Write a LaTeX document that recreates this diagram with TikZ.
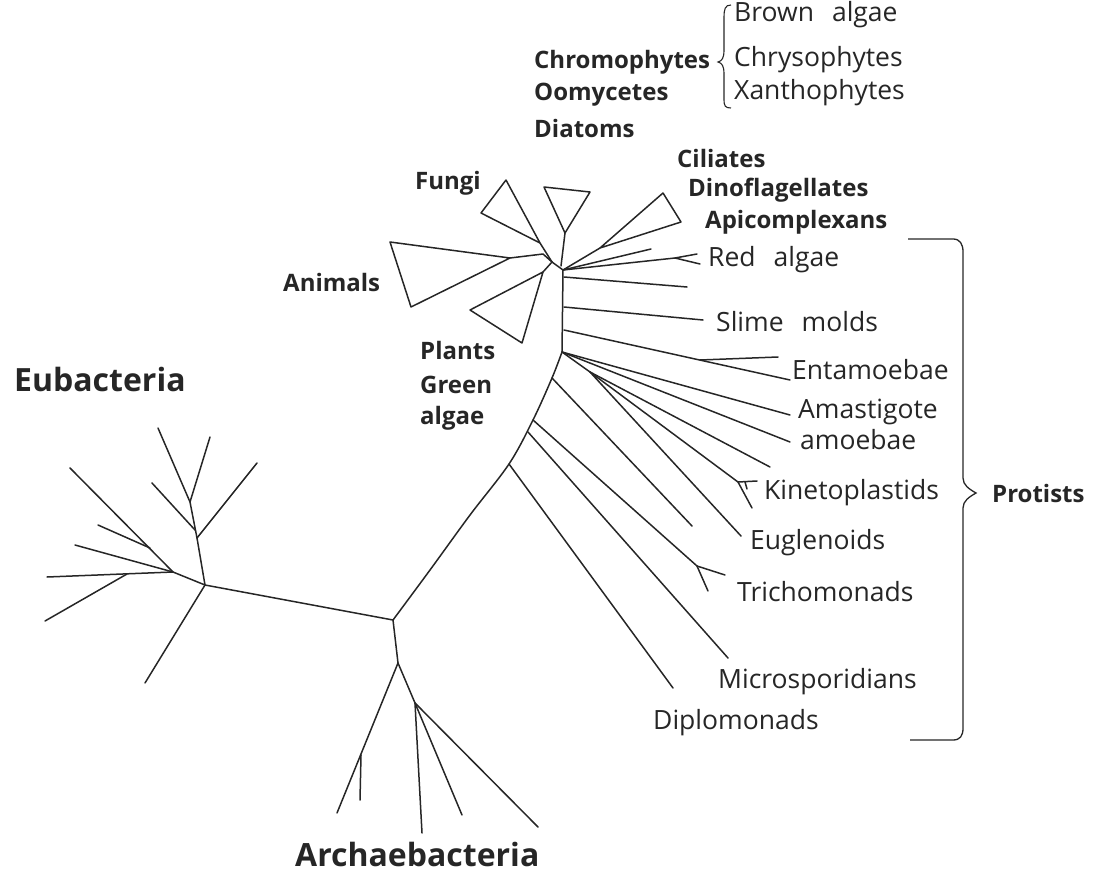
\documentclass[tikz,border=0pt]{standalone}
\usepackage{fontspec}
\setmainfont{Open Sans}
\newcommand{\wsp}{\hspace{0.68em}}
\begin{document}
\begin{tikzpicture}[x=1pt,y=-1pt,
  br/.style={line width=1.5pt, line join=round, line cap=round, black!85},
  lab/.style={anchor=west, inner sep=0pt, text=black!85, font=\fontsize{26.5}{28}\selectfont},
  blab/.style={anchor=west, inner sep=0pt, text=black!85, font=\fontsize{24}{26}\selectfont\bfseries},
  biglab/.style={anchor=base west, inner sep=0pt, text=black!85, font=\fontsize{32}{34}\selectfont\bfseries}]
\useasboundingbox (0,0) rectangle (1107,872);
% ---- key junctions
\coordinate (M) at (393,620);
\coordinate (E) at (205,585);
\coordinate (A) at (398,663);
\coordinate (A2) at (415,703);
\coordinate (C1) at (552,262);
\coordinate (T) at (563,270);
\coordinate (S1) at (562,352);
\coordinate (S2) at (552,378);
\coordinate (S3) at (533,420);
\coordinate (S4) at (528,432);
\coordinate (S5) at (509,464);
\coordinate (J2) at (590,372);
% ---- trunk
\draw[br] (M) -- (E);
\draw[br] (M) -- (A);
\draw[br] plot[smooth, tension=0.55] coordinates {(393,620) (430,570) (470,515) (S5) (S3) (S2) (S1)} -- (T) -- (C1);
% ---- eubacteria
\coordinate (Eb1) at (197,538);
\coordinate (Eb2) at (190,502);
\coordinate (Eb3) at (195,530);
\coordinate (Ec) at (173,572);
\coordinate (Ec1) at (150,548);
\coordinate (Ec2) at (127,574);
\draw[br] (E) -- (Eb1) -- (Eb2) -- (158,428);
\draw[br] (Eb2) -- (210,437);
\draw[br] (Eb1) -- (257,463);
\draw[br] (Eb3) -- (152,483);
\draw[br] (E) -- (Ec) -- (70,468);
\draw[br] (Ec1) -- (98,525);
\draw[br] (Ec) -- (75,545);
\draw[br] (Ec) -- (47,577);
\draw[br] (Ec2) -- (45,621);
\draw[br] (E) -- (145,683);
% ---- archaebacteria
\coordinate (Aa) at (361,755);
\draw[br] (A) -- (337,813);
\draw[br] (Aa) -- (360,800);
\draw[br] (A) -- (A2);
\draw[br] (A2) -- (422,833);
\draw[br] (A2) -- (462,815);
\draw[br] (A2) -- (538,827);
% ---- crown groups (triangles)
\coordinate (Fa) at (540,243);
\draw[br] (Fa) -- (506,180) -- (481,213) -- cycle;
\draw[br] (Fa) -- (C1);
\coordinate (Ka) at (565,233);
\draw[br] (Ka) -- (544,187) -- (590,192) -- cycle;
\draw[br] (Ka) -- (561,266);
\coordinate (Aa1) at (510,258);
\draw[br] (Aa1) -- (390,242) -- (411,307) -- cycle;
\draw[br] (Aa1) -- (543,254) -- (C1);
\coordinate (Pa) at (543,272);
\draw[br] (Pa) -- (470,310) -- (522,343) -- cycle;
\draw[br] (Pa) -- (C1);
\coordinate (Ca) at (600,248);
\draw[br] (Ca) -- (663,193) -- (681,222) -- cycle;
\draw[br] (Ca) -- (T);
% ---- protist branches
\draw[br] (T) -- (651,249);
\coordinate (Rf) at (675,258);
\draw[br] (T) -- (Rf) -- (697,254);
\draw[br] (Rf) -- (700,264);
\draw[br] (564,277) -- (687,287);
\draw[br] (564,307) -- (703,320);
\draw[br] (564,330) -- (790,380);
\draw[br] (700,360) -- (778,357);
\draw[br] (S1) -- (790,415);
\draw[br] (S1) -- (790,442);
\coordinate (Kf) at (738,482);
\draw[br] (S1) -- (J2) -- (Kf) -- (757,481);
\draw[br] (Kf) -- (752,508);
\draw[br] (745,482) -- (747,489);
\draw[br] (J2) -- (770,467);
\draw[br] (J2) -- (741,536);
\draw[br] (S2) -- (692,526);
\coordinate (Tf) at (697,566);
\draw[br] (S3) -- (Tf) -- (725,575);
\draw[br] (Tf) -- (708,591);
\draw[br] (S4) -- (728,658);
\draw[br] (S5) -- (673,688);
% ---- braces
\draw[line width=1.1pt, black!85] (731,5) .. controls (725,5) and (724,9) .. (724,18) -- (724,50) .. controls (724,58) and (722,61) .. (718,62) .. controls (722,63) and (724,66) .. (724,74) -- (724,99) .. controls (724,106) and (725,108) .. (731,108);
\draw[line width=1.3pt, black!85] (908,239) -- (953,239) .. controls (960,239) and (963,244) .. (963,252) -- (963,478) .. controls (963,485) and (969,489) .. (976,493) .. controls (969,497) and (963,501) .. (963,508) -- (963,728) .. controls (963,736) and (960,740) .. (953,740) -- (910,740);
% ---- labels
\node[lab] (brown) at (734,15) {Brown\wsp algae};
\node[lab] (chryso) at (734,60) {Chrysophytes};
\node[lab] (xantho) at (734,93) {Xanthophytes};
\node[blab] (chromo) at (534,62) {Chromophytes};
\node[blab] (oomy) at (534,95) {Oomycetes};
\node[blab] (diat) at (534,128) {Diatoms};
\node[blab] (cil) at (677,158) {Ciliates};
\node[blab] (dino) at (688,190) {Dinoflagellates};
\node[blab] (api) at (705,222) {Apicomplexans};
\node[blab] (fungi) at (415,183) {Fungi};
\node[blab] (anim) at (283,282) {Animals};
\node[blab] (plants) at (420,350) {Plants};
\node[blab] (green) at (420,385) {Green};
\node[blab] (galg) at (420,418) {algae};
\node[biglab] (eub) at (14,391) {Eubacteria};
\node[biglab] (arch) at (295,866) {Archaebacteria};
\node[lab] (red) at (708,260) {Red\wsp algae};
\node[lab] (slime) at (716,322) {Slime\wsp molds};
\node[lab] (ent) at (792,370) {Entamoebae};
\node[lab] (ama) at (798,412) {Amastigote};
\node[lab] (amo) at (800,440) {amoebae};
\node[lab] (kin) at (764,493) {Kinetoplastids};
\node[lab] (eug) at (750,543) {Euglenoids};
\node[lab] (tri) at (737,592) {Trichomonads};
\node[lab] (mic) at (718,682) {Microsporidians};
\node[lab] (dip) at (653,723) {Diplomonads};
\node[blab] (prot) at (992,493) {Protists};
\end{tikzpicture}
\end{document}
